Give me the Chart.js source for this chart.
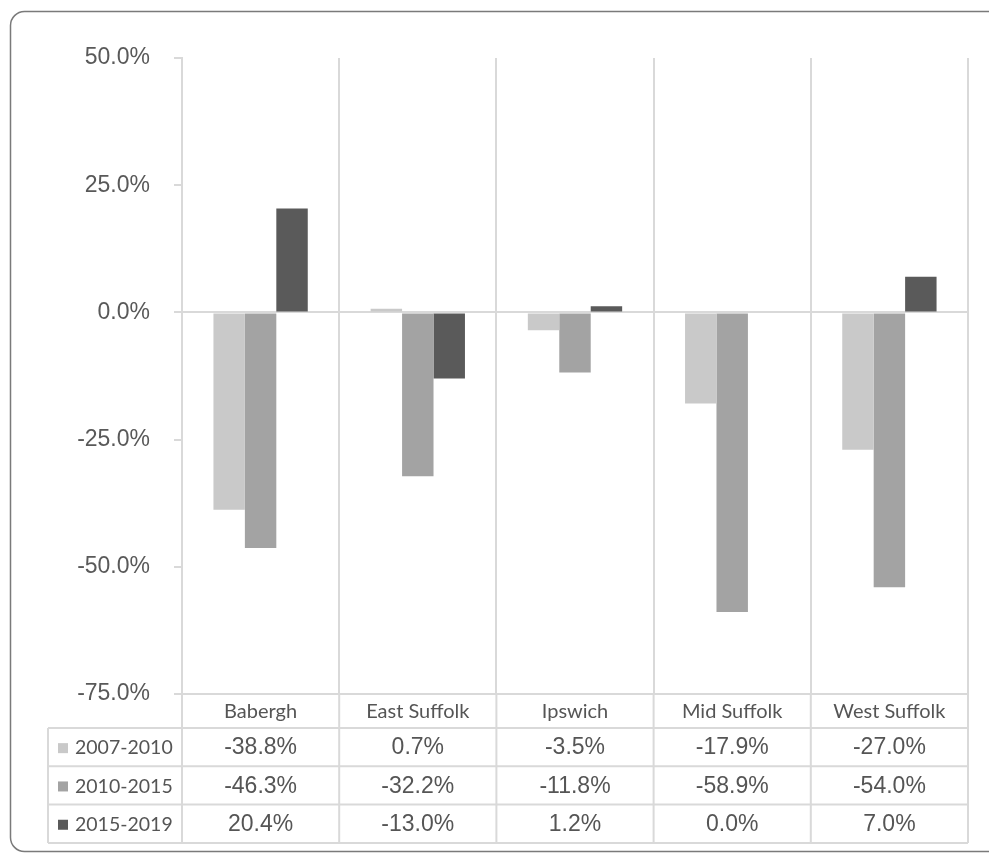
<!DOCTYPE html>
<html>
<head>
<meta charset="utf-8">
<script src="https://cdn.jsdelivr.net/npm/chart.js@4.4.1/dist/chart.umd.min.js"></script>
<style>
body{margin:0;background:#fff;}
#c{display:block;}
</style>
</head>
<body>
<canvas id="c" width="989" height="854"></canvas>
<script>
// data
const districts = ["Babergh","East Suffolk","Ipswich","Mid Suffolk","West Suffolk"];
const periods = ["2007-2010","2010-2015","2015-2019"];
const v0710 = [-38.8, 0.7, -3.5, -17.9, -27.0];
const v1015 = [-46.3, -32.2, -11.8, -58.9, -54.0];
const v1519 = [20.4, -13.0, 1.2, 0.0, 7.0];
const colors = ["#c9c9c9","#a3a3a3","#5a5a5a"];

const gridCol = "#d9d9d9";

// draws the frame and the data table under the plot
const tablePlugin = {
  id: "tablePlugin",
  beforeDraw(chart){
    const c = chart.ctx;
    c.save();
    c.fillStyle = "#fff";
    c.fillRect(0,0,chart.width,chart.height);
    c.strokeStyle = "#7a7a7a";
    c.lineWidth = 1.5;
    c.beginPath();
    c.roundRect(10.5, 11.5, 995, 840, 14);
    c.stroke();
    c.restore();
  },
  afterDraw(chart){
    const c = chart.ctx;
    const x = chart.scales.x;
    const a = chart.chartArea;
    const headH = 34, rowH = 38.3, tableLeft = 48;
    const bounds = [a.left];
    for(let i=1;i<districts.length;i++){
      bounds.push((x.getPixelForValue(i-1)+x.getPixelForValue(i))/2);
    }
    bounds.push(a.right);
    const rowTop = a.bottom + headH;
    const bottom = rowTop + rowH*periods.length;

    c.save();
    c.strokeStyle = gridCol;
    c.lineWidth = 2;
    c.beginPath();
    bounds.forEach(b => { c.moveTo(b, a.bottom); c.lineTo(b, bottom); });
    c.moveTo(tableLeft, rowTop); c.lineTo(tableLeft, bottom);
    for(let r=0;r<=periods.length;r++){
      const yy = rowTop + r*rowH;
      c.moveTo(tableLeft, yy); c.lineTo(a.right, yy);
    }
    c.stroke();

    // header labels
    c.fillStyle = "#555";
    c.textAlign = "center";
    c.textBaseline = "middle";
    c.font = "20px Lato";
    districts.forEach((d,i) => c.fillText(d, x.getPixelForValue(i), a.bottom + headH/2 + 1));

    const series = [v0710, v1015, v1519];
    series.forEach((vals, r) => {
      const cy = rowTop + r*rowH + rowH/2 + 1;
      c.fillStyle = colors[r];
      c.fillRect(58, cy-5, 10, 10);
      c.fillStyle = "#555";
      c.textAlign = "left";
      c.font = "19.5px Lato";
      c.fillText(periods[r], 75, cy);
      c.textAlign = "center";
      c.font = "23px 'Liberation Sans'";
      vals.forEach((v,i) => c.fillText(v.toFixed(1) + "%", x.getPixelForValue(i), cy));
    });
    c.restore();
  }
};

new Chart(document.getElementById("c"), {
  type: "bar",
  data: {
    labels: districts,
    datasets: periods.map((p,i) => ({
      label: p,
      data: [v0710, v1015, v1519][i],
      backgroundColor: colors[i],
      borderWidth: 0,
      categoryPercentage: 0.6,
      barPercentage: 1.0
    }))
  },
  options: {
    responsive: false,
    animation: false,
    layout: { padding: { top: 58, right: 21, bottom: 160, left: 0 } },
    plugins: { legend: { display: false }, tooltip: { enabled: false } },
    scales: {
      x: {
        ticks: { display: false },
        border: { display: false },
        grid: { offset: true, color: gridCol, lineWidth: 2, drawTicks: false },
        afterFit(s){ s.height = 0; }
      },
      y: {
        min: -75, max: 50,
        ticks: {
          stepSize: 25,
          padding: 24,
          color: "#595959",
          font: { family: "'Liberation Sans'", size: 23 },
          callback: v => v.toFixed(1) + "%"
        },
        border: { display: true, color: gridCol, width: 2 },
        grid: {
          color: ctx => (ctx.tick && (ctx.tick.value === 0 || ctx.tick.value === -75)) ? gridCol : "rgba(0,0,0,0)",
          tickColor: gridCol,
          lineWidth: 2,
          tickLength: 8
        },
        afterFit(s){ s.width = 182; }
      }
    }
  },
  plugins: [tablePlugin]
});
</script>
</body>
</html>
